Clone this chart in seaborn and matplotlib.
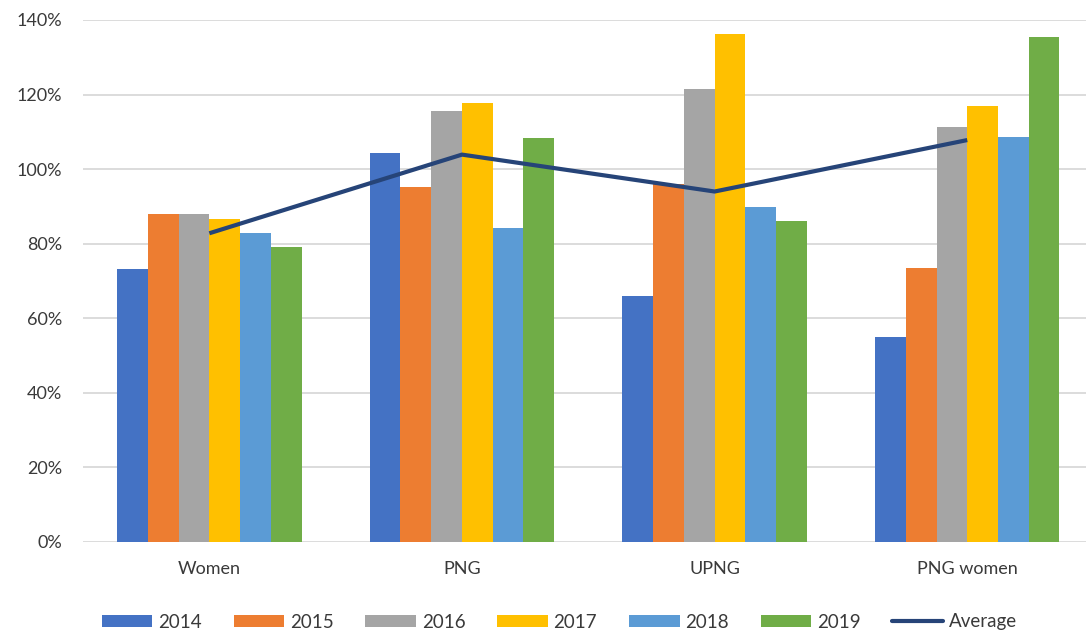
import numpy as np
import pandas as pd
import seaborn as sns
import matplotlib.pyplot as plt
from matplotlib.ticker import PercentFormatter
from matplotlib.lines import Line2D

categories = ['Women', 'PNG', 'UPNG', 'PNG women']
years = ['2014', '2015', '2016', '2017', '2018', '2019']
v2014 = [73.3, 104.2, 66.0, 54.9]
v2015 = [88.0, 95.1, 96.0, 73.4]
v2016 = [88.0, 115.7, 121.5, 111.2]
v2017 = [86.5, 117.8, 136.2, 116.9]
v2018 = [82.8, 84.3, 89.9, 108.7]
v2019 = [79.0, 108.3, 86.2, 135.5]
average = [82.8, 103.9, 94.0, 107.8]

colors = ['#4472C4', '#ED7D31', '#A5A5A5', '#FFC000', '#5B9BD5', '#70AD47']
line_color = '#264478'
text_color = '#3a3a3a'

series = [v2014, v2015, v2016, v2017, v2018, v2019]
rows = []
for yr, vals in zip(years, series):
    for cat, v in zip(categories, vals):
        rows.append({'category': cat, 'year': yr, 'value': v})
df = pd.DataFrame(rows)

sns.set_style('white')
plt.rcParams['font.family'] = ['Lato', 'DejaVu Sans']

fig = plt.figure(figsize=(10.86, 6.35), dpi=100)
ax = fig.add_axes([83 / 1086, 1 - 542 / 635, 1 - 83 / 1086, (542 - 20) / 635])

sns.barplot(data=df, x='category', y='value', hue='year', order=categories,
            hue_order=years, palette=colors, width=0.73, gap=0,
            saturation=1, errorbar=None, ax=ax, zorder=2, legend=False,
            linewidth=0)
ax.plot(np.arange(len(categories)), average, color=line_color, lw=3,
        solid_capstyle='butt', zorder=3)

ax.set_ylim(0, 140)
ax.set_xlim(-0.5, 3.47)
ax.set_yticks(np.arange(0, 141, 20))
ax.yaxis.set_major_formatter(PercentFormatter(decimals=0))
ax.grid(axis='y', color='#D9D9D9', lw=1.3, zorder=0)
ax.set_axisbelow(True)
for s in ax.spines.values():
    s.set_visible(False)
ax.set_xlabel('')
ax.set_ylabel('')
ax.tick_params(axis='both', length=0, labelsize=13, colors=text_color)
ax.tick_params(axis='y', pad=15)
ax.tick_params(axis='x', pad=14)

handles = [plt.Rectangle((0, 0), 1, 1, color=c, lw=0) for c in colors]
handles.append(Line2D([0], [0], color=line_color, lw=3))
labels = years + ['Average']
fig.legend(handles, labels, loc='center', bbox_to_anchor=(0.515, 1 - 622 / 635),
           ncol=7, frameon=False, fontsize=13.5, handlelength=2.7,
           handleheight=0.6, handletextpad=0.3, columnspacing=1.7,
           labelcolor=text_color)

fig.savefig('out.png', dpi=100)
